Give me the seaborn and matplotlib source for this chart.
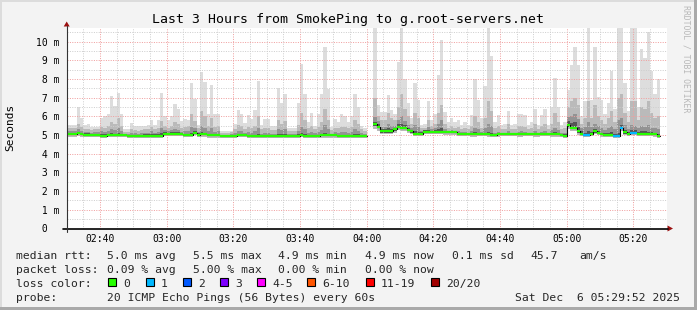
import numpy as np
import pandas as pd
import matplotlib
matplotlib.use("Agg")
import matplotlib.pyplot as plt
import seaborn as sns
from matplotlib.patches import Rectangle, Polygon
from matplotlib.lines import Line2D

sns.set_theme(style="white")
plt.rcParams["font.family"] = ["DejaVu Sans Mono", "DejaVu Sans"]

nan = np.nan

# ---------------- data (one sample per minute, starting 02:30) ----------------
p_max = [
    5.55, 5.55, 5.55, 6.5, 5.9, 5.55, 5.6, 5.45, 5.45, 5.45,
    5.9, 6.0, 6.1, 7.1, 6.55, 7.25, 6.15, 5.3, 5.3, 5.65,
    5.5, 5.5, 5.5, 5.5, 5.55, 5.8, 5.55, 5.8, 7.25, 6.0,
    5.8, 6.0, 6.65, 6.4, 5.75, 5.85, 5.8, 7.8, 6.9, 5.55,
    8.35, 7.85, 6.1, 7.65, 6.1, 6.15, 5.2, 5.2, 5.2, 5.2,
    5.6, 6.35, 6.1, 5.65, 6.05, 5.85, 6.35, 7.9, 5.55, 5.85,
    5.85, 5.5, 5.5, 7.5, 6.7, 7.2, 5.35, 5.35, 5.35, 6.7,
    8.8, 7.2, 5.7, 6.2, 5.5, 6.1, 7.2, 9.7, 7.45, 5.45,
    5.85, 5.7, 6.1, 6.0, 5.7, 6.0, 7.2, 6.5, 5.5, 5.35,
    nan, nan, 11.0, 6.6, 6.25, 6.25, 7.15, 6.35, 6.15, 8.9,
    11.0, 8.0, 6.7, 5.9, 7.8, 6.85, 5.55, 5.6, 6.8, 5.8,
    6.15, 8.2, 10.1, 6.25, 5.7, 5.9, 5.7, 5.8, 5.55, 5.7,
    5.55, 6.05, 8.0, 6.85, 5.9, 7.6, 11.0, 9.2, 5.7, 6.05,
    5.55, 5.6, 6.3, 5.55, 5.6, 6.15, 6.15, 6.05, 5.55, 5.7,
    6.4, 5.55, 6.05, 6.4, 5.55, 6.5, 8.05, 6.5, 5.55, 5.7,
    7.4, 8.75, 9.7, 8.75, 6.0, 6.8, 11.0, 6.85, 9.7, 7.05,
    6.85, 6.15, 6.7, 8.4, 6.4, 11.0, 11.0, 7.8, 6.3, 11.0,
    11.0, 6.5, 9.6, 9.1, 10.5, 8.4, 7.2, 8.0,
]

p_hi2 = [
    5.4, 5.35, 5.35, 5.6, 5.45, 5.3, 5.3, 5.25, 5.3, 5.3,
    5.45, 5.4, 5.5, 5.7, 5.6, 5.9, 5.5, 5.15, 5.15, 5.3,
    5.25, 5.2, 5.25, 5.3, 5.3, 5.45, 5.3, 5.4, 5.75, 5.5,
    5.4, 5.5, 5.7, 5.6, 5.4, 5.45, 5.5, 6.1, 5.75, 5.35,
    6.3, 6.0, 5.5, 5.9, 5.45, 5.5, 5.1, 5.1, 5.1, 5.15,
    5.3, 5.55, 5.5, 5.3, 5.45, 5.4, 5.5, 6.0, 5.3, 5.4,
    5.4, 5.25, 5.25, 5.8, 5.6, 5.75, 5.2, 5.2, 5.2, 5.55,
    6.2, 5.8, 5.35, 5.5, 5.3, 5.45, 5.7, 6.4, 5.8, 5.25,
    5.4, 5.35, 5.45, 5.45, 5.35, 5.45, 5.8, 5.6, 5.3, 5.2,
    nan, nan, 7.0, 6.0, 5.8, 5.8, 6.2, 5.9, 5.8, 6.5,
    7.2, 6.4, 6.0, 5.6, 6.2, 5.9, 5.35, 5.4, 5.8, 5.5,
    5.6, 6.2, 6.6, 5.6, 5.35, 5.5, 5.4, 5.45, 5.3, 5.35,
    5.3, 5.5, 6.0, 5.7, 5.4, 5.9, 6.8, 6.3, 5.35, 5.5,
    5.3, 5.3, 5.6, 5.3, 5.3, 5.5, 5.5, 5.45, 5.3, 5.35,
    5.6, 5.3, 5.5, 5.6, 5.3, 5.6, 6.2, 5.7, 5.3, 5.35,
    6.5, 6.8, 7.0, 6.6, 5.6, 5.9, 6.8, 5.9, 6.6, 6.0,
    5.8, 5.6, 5.9, 6.3, 5.7, 7.0, 7.2, 6.2, 5.7, 6.8,
    6.8, 5.8, 6.5, 6.4, 6.8, 6.2, 5.9, 6.0,
]

p_hi3 = [
    5.22, 5.2, 5.2, 5.3, 5.22, 5.15, 5.15, 5.12, 5.15, 5.15,
    5.2, 5.18, 5.22, 5.3, 5.25, 5.35, 5.2, 5.05, 5.05, 5.12,
    5.1, 5.08, 5.1, 5.12, 5.12, 5.2, 5.12, 5.18, 5.35, 5.25,
    5.2, 5.25, 5.3, 5.28, 5.18, 5.2, 5.22, 5.45, 5.35, 5.15,
    5.5, 5.4, 5.2, 5.35, 5.18, 5.2, 5.02, 5.02, 5.02, 5.05,
    5.12, 5.22, 5.2, 5.12, 5.15, 5.12, 5.2, 5.4, 5.08, 5.12,
    5.12, 5.08, 5.08, 5.3, 5.25, 5.3, 5.05, 5.05, 5.05, 5.2,
    5.45, 5.3, 5.12, 5.18, 5.1, 5.15, 5.25, 5.55, 5.3, 5.08,
    5.15, 5.12, 5.18, 5.15, 5.12, 5.15, 5.3, 5.22, 5.1, 5.05,
    nan, nan, 5.95, 5.75, 5.45, 5.45, 5.6, 5.5, 5.5, 5.8,
    6.0, 5.75, 5.55, 5.4, 5.55, 5.45, 5.2, 5.25, 5.45, 5.3,
    5.35, 5.6, 5.8, 5.3, 5.2, 5.25, 5.22, 5.2, 5.15, 5.15,
    5.12, 5.2, 5.4, 5.3, 5.15, 5.35, 5.6, 5.5, 5.12, 5.18,
    5.1, 5.1, 5.2, 5.1, 5.1, 5.18, 5.2, 5.18, 5.1, 5.12,
    5.2, 5.1, 5.18, 5.2, 5.1, 5.25, 5.4, 5.25, 5.1, 5.1,
    5.95, 6.0, 6.1, 5.85, 5.4, 5.45, 5.7, 5.45, 5.6, 5.5,
    5.35, 5.25, 5.35, 5.5, 5.3, 5.8, 5.9, 5.55, 5.3, 5.55,
    5.5, 5.35, 5.5, 5.45, 5.55, 5.4, 5.35, 5.3,
]

p_hi4 = [
    5.1, 5.11, 5.12, 5.18, 5.12, 5.09, 5.09, 5.07, 5.07, 5.07,
    5.03, 5.03, 5.07, 5.1, 5.08, 5.1, 5.07, 5.05, 5.0, 5.0,
    5.0, 5.0, 5.0, 5.04, 5.04, 5.06, 5.04, 5.05, 5.1, 5.14,
    5.13, 5.14, 5.15, 5.14, 5.12, 5.07, 5.08, 5.1, 5.2, 5.09,
    5.14, 5.12, 5.05, 5.08, 5.05, 5.05, 4.99, 4.99, 4.99, 5.0,
    5.02, 5.08, 5.07, 5.06, 5.0, 5.0, 5.02, 5.05, 4.99, 5.0,
    5.02, 5.0, 5.0, 5.05, 5.04, 5.05, 4.99, 4.99, 4.99, 5.03,
    5.12, 5.04, 5.01, 5.02, 5.0, 5.01, 5.05, 5.1, 5.06, 5.03,
    5.04, 5.01, 5.02, 5.02, 5.01, 5.02, 5.05, 5.03, 5.0, 4.99,
    nan, nan, 5.7, 5.58, 5.3, 5.3, 5.35, 5.32, 5.4, 5.58,
    5.6, 5.55, 5.38, 5.28, 5.2, 5.18, 5.14, 5.25, 5.28, 5.24,
    5.25, 5.3, 5.35, 5.21, 5.19, 5.2, 5.19, 5.13, 5.12, 5.13,
    5.12, 5.09, 5.14, 5.12, 5.09, 5.12, 5.15, 5.1, 5.06, 5.09,
    5.1, 5.1, 5.12, 5.1, 5.1, 5.09, 5.1, 5.11, 5.1, 5.1,
    5.1, 5.08, 5.1, 5.12, 5.1, 5.1, 5.14, 5.1, 5.06, 5.03,
    5.75, 5.65, 5.7, 5.45, 5.2, 5.12, 5.2, 5.18, 5.32, 5.24,
    5.13, 5.1, 5.12, 5.15, 5.06, 5.12, 5.55, 5.28, 5.14, 5.25,
    5.25, 5.17, 5.2, 5.19, 5.17, 5.15, 5.12, 5.06,
]

p_low = [
    4.98, 4.99, 5.0, 5.05, 5.0, 4.97, 4.97, 4.95, 4.95, 4.95,
    4.9, 4.9, 4.95, 4.95, 4.95, 4.95, 4.95, 4.95, 4.88, 4.88,
    4.88, 4.88, 4.88, 4.92, 4.92, 4.92, 4.92, 4.92, 4.92, 5.01,
    5.01, 5.01, 5.01, 5.01, 5.01, 4.95, 4.95, 4.95, 5.07, 4.97,
    4.98, 4.98, 4.93, 4.93, 4.93, 4.93, 4.9, 4.9, 4.9, 4.9,
    4.9, 4.95, 4.95, 4.95, 4.88, 4.88, 4.88, 4.88, 4.88, 4.88,
    4.9, 4.9, 4.9, 4.9, 4.9, 4.9, 4.9, 4.9, 4.9, 4.9,
    4.97, 4.9, 4.9, 4.9, 4.9, 4.9, 4.93, 4.93, 4.93, 4.93,
    4.93, 4.9, 4.9, 4.9, 4.9, 4.9, 4.9, 4.9, 4.9, 4.9,
    nan, nan, 5.48, 5.36, 5.13, 5.13, 5.13, 5.13, 5.22, 5.36,
    5.32, 5.32, 5.2, 5.13, 5.02, 5.02, 5.02, 5.12, 5.12, 5.12,
    5.12, 5.12, 5.12, 5.09, 5.09, 5.09, 5.09, 5.02, 5.02, 5.02,
    5.02, 4.98, 4.98, 5.0, 5.0, 5.0, 4.98, 4.95, 4.95, 4.98,
    5.0, 5.0, 5.0, 5.0, 5.0, 4.98, 4.98, 5.0, 5.0, 5.0,
    4.98, 4.98, 5.0, 5.0, 5.0, 4.98, 4.98, 4.98, 4.95, 4.92,
    5.45, 5.32, 5.32, 5.13, 5.02, 4.95, 4.95, 5.02, 5.13, 5.06,
    4.98, 4.95, 4.95, 4.95, 4.91, 4.91, 5.32, 5.08, 5.0, 5.07,
    5.07, 5.02, 5.02, 5.02, 5.0, 5.0, 4.98, 4.92,
]

p_min = [
    4.9, 4.9, 4.92, 4.95, 4.92, 4.9, 4.9, 4.88, 4.88, 4.88,
    4.84, 4.84, 4.88, 4.88, 4.88, 4.88, 4.88, 4.88, 4.82, 4.82,
    4.82, 4.82, 4.82, 4.85, 4.85, 4.85, 4.85, 4.85, 4.85, 4.93,
    4.93, 4.93, 4.93, 4.93, 4.93, 4.88, 4.88, 4.88, 4.98, 4.9,
    4.9, 4.9, 4.86, 4.86, 4.86, 4.86, 4.84, 4.84, 4.84, 4.84,
    4.84, 4.88, 4.88, 4.88, 4.82, 4.82, 4.82, 4.82, 4.82, 4.82,
    4.84, 4.84, 4.84, 4.84, 4.84, 4.84, 4.84, 4.84, 4.84, 4.84,
    4.9, 4.84, 4.84, 4.84, 4.84, 4.84, 4.86, 4.86, 4.86, 4.86,
    4.86, 4.84, 4.84, 4.84, 4.84, 4.84, 4.84, 4.84, 4.84, 4.84,
    nan, nan, 5.3, 5.2, 5.05, 5.05, 5.05, 5.05, 5.12, 5.25,
    5.22, 5.22, 5.12, 5.05, 4.95, 4.95, 4.95, 5.05, 5.05, 5.05,
    5.05, 5.05, 5.05, 5.02, 5.02, 5.02, 5.02, 4.96, 4.96, 4.96,
    4.96, 4.92, 4.92, 4.93, 4.93, 4.93, 4.92, 4.88, 4.88, 4.92,
    4.93, 4.93, 4.93, 4.93, 4.93, 4.92, 4.92, 4.93, 4.93, 4.93,
    4.92, 4.92, 4.93, 4.93, 4.93, 4.92, 4.92, 4.92, 4.88, 4.86,
    5.3, 5.2, 5.2, 5.02, 4.95, 4.88, 4.88, 4.95, 5.05, 5.0,
    4.92, 4.88, 4.88, 4.88, 4.84, 4.84, 5.2, 5.0, 4.93, 5.0,
    5.0, 4.96, 4.96, 4.96, 4.93, 4.93, 4.92, 4.86,
]

median_ms = [
    5.03, 5.04, 5.05, 5.10, 5.05, 5.02, 5.02, 5.00, 5.00, 5.00,
    4.95, 4.95, 5.00, 5.00, 5.00, 5.00, 5.00, 5.00, 4.93, 4.93,
    4.93, 4.93, 4.93, 4.97, 4.97, 4.97, 4.97, 4.97, 4.97, 5.06,
    5.06, 5.06, 5.06, 5.06, 5.06, 5.00, 5.00, 5.00, 5.12, 5.02,
    5.03, 5.03, 4.98, 4.98, 4.98, 4.98, 4.95, 4.95, 4.95, 4.95,
    4.95, 5.00, 5.00, 5.00, 4.93, 4.93, 4.93, 4.93, 4.93, 4.93,
    4.95, 4.95, 4.95, 4.95, 4.95, 4.95, 4.95, 4.95, 4.95, 4.95,
    5.02, 4.95, 4.95, 4.95, 4.95, 4.95, 4.98, 4.98, 4.98, 4.98,
    4.98, 4.95, 4.95, 4.95, 4.95, 4.95, 4.95, 4.95, 4.95, 4.95,
    nan, nan, 5.57, 5.45, 5.20, 5.20, 5.20, 5.20, 5.30, 5.45,
    5.40, 5.40, 5.27, 5.20, 5.08, 5.08, 5.08, 5.18, 5.18, 5.18,
    5.18, 5.18, 5.18, 5.15, 5.15, 5.15, 5.15, 5.08, 5.08, 5.08,
    5.08, 5.03, 5.03, 5.05, 5.05, 5.05, 5.03, 5.00, 5.00, 5.03,
    5.05, 5.05, 5.05, 5.05, 5.05, 5.03, 5.03, 5.05, 5.05, 5.05,
    5.03, 5.03, 5.05, 5.05, 5.05, 5.03, 5.03, 5.03, 5.00, 4.97,
    5.53, 5.40, 5.40, 5.20, 5.08, 5.00, 5.00, 5.08, 5.20, 5.12,
    5.03, 5.00, 5.00, 5.00, 4.96, 4.96, 5.40, 5.15, 5.05, 5.13,
    5.13, 5.08, 5.08, 5.08, 5.05, 5.05, 5.03, 4.97,
]

lost_pings = [
    0, 0, 0, 0, 0, 0, 0, 0, 0, 0,
    0, 0, 0, 0, 0, 0, 0, 0, 0, 0,
    0, 0, 0, 0, 0, 0, 0, 0, 0, 0,
    0, 0, 0, 0, 0, 0, 0, 0, 0, 0,
    0, 0, 0, 0, 0, 0, 0, 0, 0, 0,
    0, 0, 0, 0, 0, 0, 0, 0, 0, 0,
    0, 0, 0, 0, 0, 0, 0, 0, 0, 0,
    0, 0, 0, 0, 0, 0, 0, 0, 0, 0,
    0, 0, 0, 0, 0, 0, 0, 0, 0, 0,
    0, 0, 0, 0, 0, 0, 0, 0, 0, 0,
    0, 0, 0, 0, 0, 0, 0, 0, 0, 0,
    0, 0, 0, 0, 0, 0, 0, 0, 0, 0,
    0, 0, 0, 0, 0, 0, 0, 0, 0, 0,
    0, 0, 0, 0, 0, 0, 0, 0, 0, 0,
    0, 0, 0, 0, 0, 0, 0, 0, 0, 0,
    0, 0, 0, 0, 0, 1, 1, 0, 0, 0,
    0, 0, 0, 0, 1, 1, 1, 0, 0, 1,
    1, 0, 0, 0, 0, 0, 0, 0,
]

x_tick_minutes = [10, 30, 50, 70, 90, 110, 130, 150, 170]
x_tick_labels = ["02:40", "03:00", "03:20", "03:40", "04:00", "04:20", "04:40", "05:00", "05:20"]
y_tick_values = [0, 1, 2, 3, 4, 5, 6, 7, 8, 9, 10]
y_tick_labels = [" 0", " 1 m", " 2 m", " 3 m", " 4 m", " 5 m", " 6 m", " 7 m", " 8 m", " 9 m", "10 m"]

loss_legend_labels = ["0", "1", "2", "3", "4-5", "6-10", "11-19", "20/20"]
loss_legend_colors = ["#26ff00", "#00b8ff", "#0059ff", "#7e00ff", "#ff00ff", "#ff5500", "#ff0000", "#a10000"]
loss_line_colors = {0: "#26ff00", 1: "#00b8ff", 2: "#0059ff", 3: "#7e00ff",
                    4: "#ff00ff", 5: "#ff00ff", 10: "#ff5500", 19: "#ff0000", 20: "#a10000"}

arrays = [p_max, p_hi2, p_hi3, p_hi4, p_low, p_min, median_ms, lost_pings]
lens = [len(a) for a in arrays]
if len(set(lens)) != 1:
    raise SystemExit("length mismatch: %s" % lens)

N = len(median_ms)
minute = np.arange(N)

# ---------------- figure ----------------
W, H = 697, 310
fig = plt.figure(figsize=(W / 100, H / 100), dpi=100, facecolor="#f3f3f3")

def fx(px):
    return px / W

def fy(py):
    return 1 - py / H

ax_left, ax_right, ax_top, ax_bot = 66.7, 666.7, 27.5, 228.5
ax = fig.add_axes([fx(ax_left), fy(ax_bot), (ax_right - ax_left) / W, (ax_bot - ax_top) / H])
ax.set_facecolor("white")
ax.set_xlim(0, 180)
ax.set_ylim(0, 10.75)

# smoke layers
layers = [
    (p_min, p_max, "#dddddd"),
    (p_min, p_hi2, "#bababa"),
    (p_low, p_hi3, "#939393"),
    (p_low, p_hi4, "#555555"),
]
for lo, hi, col in layers:
    lo = np.asarray(lo, float)
    hi = np.asarray(hi, float)
    ax.bar(minute, hi - lo, bottom=lo, width=1.0, align="edge", color=col,
           linewidth=0, antialiased=False, zorder=1)

# median: black step connector then colored per-loss segments
med = np.asarray(median_ms, float)
seg = np.cumsum(np.isnan(med))
rows = []
for i in range(N):
    if np.isnan(med[i]):
        continue
    rows.append((i, med[i], seg[i]))
    rows.append((i + 1, med[i], seg[i]))
df = pd.DataFrame(rows, columns=["minute", "median", "segment"])
sns.lineplot(data=df, x="minute", y="median", units="segment", estimator=None, sort=False,
             color="black", linewidth=0.8, ax=ax, zorder=4, legend=False)

def loss_color(n):
    for k in sorted(loss_line_colors):
        if n <= k:
            return loss_line_colors[k]
    return loss_line_colors[20]

valid = ~np.isnan(med)
ax.hlines(med[valid], minute[valid], minute[valid] + 1,
          colors=[loss_color(n) for n in np.asarray(lost_pings)[valid]],
          linewidth=1.6, zorder=5, capstyle="butt")

# grid
ax.set_xticks(x_tick_minutes)
ax.set_xticklabels(x_tick_labels)
ax.set_xticks(np.arange(0, 181, 5), minor=True)
ax.set_yticks(y_tick_values)
ax.set_yticklabels(y_tick_labels, ha="left")
ax.set_yticks(np.arange(0, 10.75, 0.5), minor=True)
ax.set_axisbelow(False)
ax.grid(which="minor", color="#cfcfcf", linestyle=(0, (1, 1.4)), linewidth=0.72)
ax.grid(which="major", color="#f0a0a0", linestyle=(0, (1, 1.4)), linewidth=0.72)
for gl in ax.get_xgridlines() + ax.get_ygridlines():
    gl.set_zorder(2.2)

ax.tick_params(axis="x", which="major", length=0, pad=3.8,
               labelsize=7, labelcolor="black")
ax.tick_params(axis="x", which="minor", length=0)
ax.tick_params(axis="y", which="major", length=0, pad=22.25,
               labelsize=7, labelcolor="black")
ax.tick_params(axis="y", which="minor", length=0)
for s in ax.spines.values():
    s.set_visible(False)
ax.set_xlabel("")
ax.set_ylabel("")

# axis lines with arrows (decoration, figure pixels)
arrow_col = "#9b1010"
fig.add_artist(Line2D([fx(62.5), fx(668)], [fy(ax_bot), fy(ax_bot)], color="#000000", lw=1.2))
fig.add_artist(Line2D([fx(ax_left), fx(ax_left)], [fy(231.5), fy(26)], color="#333333", lw=0.8))
fig.add_artist(Polygon([(fx(673), fy(ax_bot)), (fx(667.5), fy(ax_bot - 3)), (fx(667.5), fy(ax_bot + 3))],
                       closed=True, color=arrow_col, lw=0))
fig.add_artist(Polygon([(fx(ax_left), fy(21.5)), (fx(ax_left - 3), fy(26.5)), (fx(ax_left + 3), fy(26.5))],
                       closed=True, color=arrow_col, lw=0))

# titles and labels
fig.text(fx(348.5), fy(23.5), "Last 3 Hours from SmokePing to g.root-servers.net",
         ha="center", va="baseline", fontsize=9.5, color="black")
fig.text(fx(10.5), fy(127), "Seconds", rotation=90, ha="center", va="center", fontsize=8, color="black")
fig.text(fx(686), fy(5), "RRDTOOL / TOBI OETIKER", rotation=270, ha="center", va="top",
         fontsize=5.9, color="#b8b8b8")

# legend rows
fs = 8.2
row_base = [259, 273, 287, 301]
row1 = [(16, "median rtt:"), (107, "5.0 ms avg"), (193, "5.5 ms max"), (278, "4.9 ms min"),
        (365, "4.9 ms now"), (452, "0.1 ms sd"), (530, "45.7"), (579, "am/s")]
row2 = [(16, "packet loss:"), (107, "0.09 % avg"), (193, "5.00 % max"), (278, "0.00 % min"),
        (365, "0.00 % now")]
for x, t in row1:
    fig.text(fx(x), fy(row_base[0]), t, ha="left", va="baseline", fontsize=fs)
for x, t in row2:
    fig.text(fx(x), fy(row_base[1]), t, ha="left", va="baseline", fontsize=fs)
fig.text(fx(16), fy(row_base[2]), "loss color:", ha="left", va="baseline", fontsize=fs)
box_x = [108, 146, 183, 220, 257, 307, 366, 431]
for bx, lab, col in zip(box_x, loss_legend_labels, loss_legend_colors):
    fig.add_artist(Rectangle((fx(bx), fy(286)), 8 / W, 8 / H, facecolor=col, edgecolor="black",
                             lw=0.8, transform=fig.transFigure))
    fig.text(fx(bx + 15), fy(row_base[2]), lab, ha="left", va="baseline", fontsize=fs)
fig.text(fx(16), fy(row_base[3]), "probe:", ha="left", va="baseline", fontsize=fs)
fig.text(fx(107), fy(row_base[3]), "20 ICMP Echo Pings (56 Bytes) every 60s", ha="left",
         va="baseline", fontsize=fs)
fig.text(fx(680), fy(row_base[3]), "Sat Dec  6 05:29:52 2025", ha="right", va="baseline", fontsize=fs)

# frame
fig.add_artist(Rectangle((0, fy(2)), 1, 2 / H, facecolor="#dcdcdc", lw=0, transform=fig.transFigure))
fig.add_artist(Rectangle((0, 0), 2 / W, 1, facecolor="#dcdcdc", lw=0, transform=fig.transFigure))
fig.add_artist(Rectangle((0, 0), 1, 3 / H, facecolor="#a9a9a9", lw=0, transform=fig.transFigure))
fig.add_artist(Rectangle((fx(694), 0), 3 / W, 1, facecolor="#a9a9a9", lw=0, transform=fig.transFigure))

fig.savefig("out.png", dpi=100, facecolor=fig.get_facecolor())
